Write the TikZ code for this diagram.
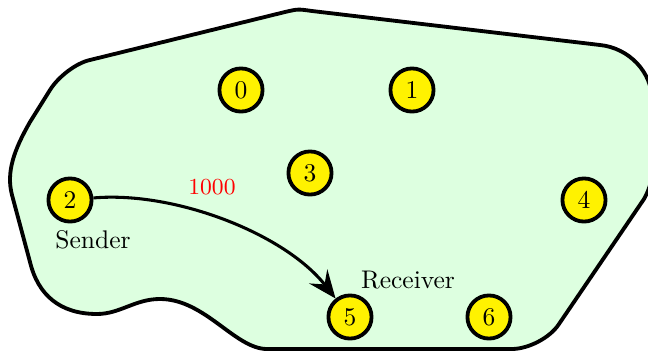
\documentclass[tikz,border=0pt]{standalone}
\usetikzlibrary{arrows.meta}
\definecolor{lightgreen}{RGB}{221,255,224}

\begin{document}
\begin{tikzpicture}[x=0.01378cm, y=-0.01378cm, hosts/.style={draw, line width=1.5pt, fill=yellow, circle, inner sep=0pt, minimum size=16.9pt}, tags/.style={inner sep=0pt}]
	\useasboundingbox (0,0) rectangle (648,352);
	\draw [line width=1.5pt, fill=lightgreen] (12,195) .. controls (6,172) and (14,150) .. (30,122) -- (50,90) .. controls (58,77) and (76,63) .. (90,60) -- (285,12) .. controls (298,9) .. (312,11) -- (600,45) .. controls (629,48) and (652,72) .. (652,100) -- (652,172) .. controls (652,182) and (648,192) .. (644,199) -- (559,324) .. controls (550,338) and (528,349) .. (512,349) -- (267,349) .. controls (235,349) and (205,299) .. (160,299) .. controls (135,299) and (120,314) .. (97,314) .. controls (60,314) and (38,295) .. (30,262) -- cycle;
	\node [hosts] (0) at (241,90){0};
	\node [hosts] (1) at (412,90){1};
	\node [hosts] (2) at (70,200){2};
	\node [hosts] (3) at (310,173){3};
	\node [hosts] (4) at (584,200){4};
	\node [hosts] (5) at (350,317){5};
	\node [hosts] (6) at (489,317){6};
	\node [tags] (sender) at (93,240){Sender};
	\node [tags] (receiver) at (408,280){Receiver};
	\node [tags, text=red, font=\small] (cost) at (212,187){1000};
\draw [line width=1.2pt, -{Stealth[length=11pt, width=9pt, inset=4pt]}] (2) to[out=5, in=128, looseness=0.8] (5);
\end{tikzpicture}
\end{document}
